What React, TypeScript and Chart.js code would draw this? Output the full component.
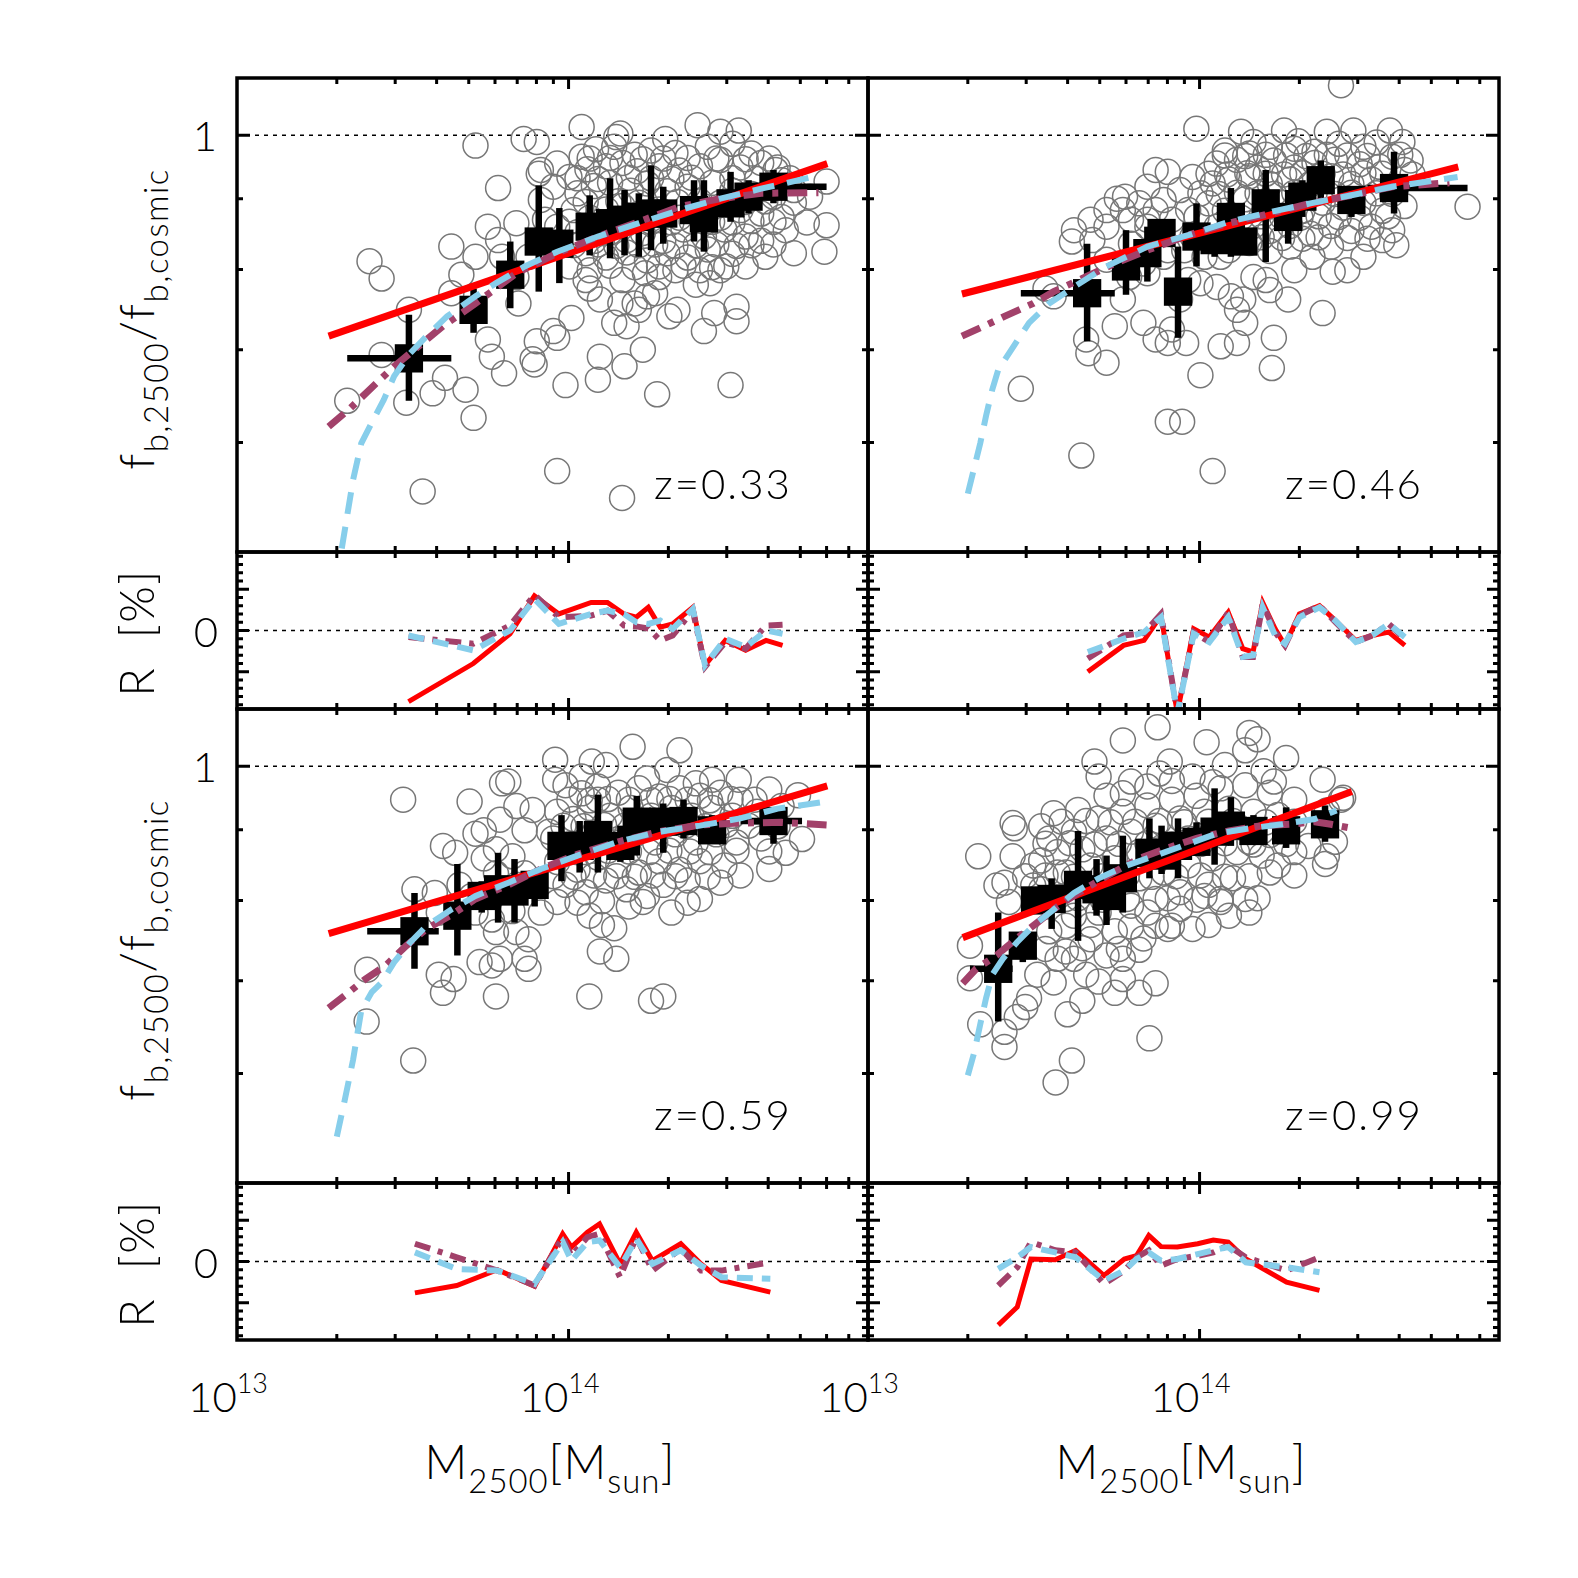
import React, { useEffect, useRef } from "react";
import { Chart, registerables } from "chart.js";
Chart.register(...registerables);

// masses are given in units of 1e13 Msun
const E13 = 1e13;

// ---------------- axis ticks ----------------
const xMajorTicks = [1e13, 1e14];
const xMinorTicks = [2e13, 3e13, 4e13, 5e13, 6e13, 7e13, 8e13, 9e13, 2e14, 3e14, 4e14, 5e14, 6e14, 7e14];
const xTickLabels = ["13", "14"];
const fMajorTicks = [1];
const fMinorTicks = [0.6, 0.7, 0.8, 0.9];
const rMajorTicks = [-10, 0, 10];
const rMinorTicks = [-18, -16, -14, -12, -8, -6, -4, -2, 2, 4, 6, 8, 12, 14, 16, 18];
const redshiftLabels = ["z=0.33", "z=0.46", "z=0.59", "z=0.99"];

// ---------------- z = 0.33 ----------------
const z033Circles = [
  [5.24,0.983],[7.32,0.994],[8.02,0.989],[10.95,1.014],[13.93,0.997],[14.33,1.003],[19.57,0.994],[24.5,1.017],[28.7,1.006],[32.6,1.008],
  [6.13,0.916],[2.51,0.811],[2.73,0.788],[4.43,0.831],[3.30,0.748],[4.75,0.793],[4.43,0.769],[6.13,0.840],[6.30,0.817],[6.96,0.790],
  [8.13,0.938],[8.25,0.898],[9.24,0.954],[2.73,0.694],[2.15,0.643],[3.24,0.641],[3.89,0.651],[4.24,0.668],[4.89,0.655],[5.17,0.625],
  [5.71,0.712],[5.87,0.692],[6.39,0.673],[7.06,0.756],[7.79,0.689],[7.90,0.683],[8.02,0.710],[8.99,0.722],[9.24,0.714],[9.79,0.660],
  [10.2,0.738],[12.43,0.692],[12.26,0.666],[14.75,0.681],[16.75,0.700],[18.5,0.650],[30.8,0.660],[25.6,0.722],[32.1,0.734],[32.1,0.752],
  [27.5,0.744],[28.7,0.799],[29.9,0.804],[24.2,0.780],[20.14,0.740],[17.24,0.765],[15.83,0.756],[14.96,0.728],[13.73,0.732],[16.29,0.748],
  [14.33,0.756],[11.58,0.775],[12.43,0.761],[11.26,0.786],[14.54,0.786],[17.0,0.795],[18.76,0.790],[18.24,0.769],[21.3,0.748],[26.7,0.782],
  [3.63,0.553],[9.24,0.572],[14.5,0.547],[39.2,0.817],[47.8,0.822],[59.1,0.824],[60.0,0.861],[60.0,0.926],[42.1,0.944],[43.9,0.928],[47.8,0.913],[53.5,0.903],
  [10.95,0.965],[12.1,0.977],[13.73,0.981],[15.83,0.968],[17.73,0.975],[21.0,0.971],[26.3,0.981],[31.2,0.986],[35.6,0.970],
  [10.06,0.933],[11.4,0.945],[12.97,0.950],[14.54,0.955],[16.1,0.942],[18.76,0.950],[21.6,0.943],[24.9,0.950],[28.7,0.960],[33.0,0.948],[38.1,0.955],[42.7,0.948],
  [10.64,0.908],[11.92,0.919],[13.34,0.924],[15.39,0.912],[17.24,0.923],[19.85,0.911],[22.86,0.918],[27.1,0.924],[31.2,0.912],[35.6,0.907],[41.5,0.903],
  [10.35,0.883],[11.58,0.872],[12.97,0.884],[14.54,0.889],[16.29,0.877],[18.76,0.884],[21.6,0.872],[24.9,0.884],[28.7,0.872],[33.0,0.883],[38.1,0.878],[43.9,0.873],
  [10.64,0.851],[11.92,0.839],[13.34,0.851],[14.96,0.840],[16.75,0.850],[19.3,0.839],[22.22,0.855],[25.6,0.845],[29.5,0.855],[34.2,0.845],[38.1,0.839],[45.2,0.854],
  [11.26,0.822],[12.97,0.816],[14.96,0.823],[17.24,0.812],[19.85,0.822],[22.86,0.816],[26.3,0.827],[31.2,0.821],
  [8.25,0.944],[8.99,0.918],[8.49,0.869],[9.24,0.859],[11.58,0.799],[21.0,0.799],[24.9,0.799],
  [11.58,0.962],[13.34,0.963],[16.75,0.961],[19.3,0.962],[22.86,0.963],[27.9,0.962],[34.2,0.961],[40.3,0.962],
  [10.64,0.931],[12.26,0.930],[15.2,0.932],[17.73,0.931],[20.42,0.930],[23.5,0.932],[31.2,0.931],[37.0,0.930],[46.5,0.931],
  [11.26,0.895],[14.13,0.896],[16.29,0.894],[21.3,0.895],[24.9,0.896],[28.7,0.894],[34.2,0.895],[39.2,0.896],[47.8,0.894],
  [10.06,0.866],[12.26,0.865],[15.39,0.867],[17.73,0.866],[20.42,0.865],[23.5,0.867],[27.1,0.866],[31.2,0.865],[35.6,0.867],[41.5,0.866],[52.3,0.865],
  [10.35,0.833],[12.26,0.834],[13.93,0.832],[16.29,0.833],[18.24,0.834],[21.0,0.832],[24.2,0.833],[27.9,0.834],[32.1,0.832],[35.6,0.833],[41.5,0.834],
  [10.06,0.804],[13.34,0.805],[15.83,0.803],[18.76,0.804],[22.22,0.805],[27.1,0.803],[34.2,0.804],
  [6.96,0.864],[7.57,0.817],[5.24,0.817],[5.71,0.859]
];
const z033BinM = [3.30, 5.17, 6.67, 8.13, 9.38, 11.58, 13.34, 14.75, 16.29, 17.73, 19.3, 23.9, 25.6, 30.8, 34.9, 41.5];
const z033BinF = [0.690, 0.748, 0.793, 0.838, 0.835, 0.859, 0.864, 0.869, 0.873, 0.878, 0.878, 0.883, 0.871, 0.893, 0.903, 0.918];
const z033BinFLo = [0.643, 0.720, 0.750, 0.771, 0.782, 0.819, 0.815, 0.819, 0.817, 0.826, 0.835, 0.838, 0.824, 0.866, 0.878, 0.893];
const z033BinFHi = [0.742, 0.775, 0.838, 0.920, 0.886, 0.905, 0.931, 0.913, 0.908, 0.951, 0.918, 0.928, 0.928, 0.941, 0.928, 0.944];
const z033BinMLo = [2.15, null, null, null, null, null, null, null, null, null, null, null, null, null, null, 36.4];
const z033BinMHi = [4.43, null, null, null, null, null, null, null, null, null, null, null, null, null, null, 60.0];
const z033RedM = [1.89, 60.3];
const z033RedF = [0.716, 0.954];
const z033BlueM = [2.07, 2.24, 2.37, 2.55, 2.77, 2.98, 3.33, 3.73, 4.30, 5.24, 6.04, 7.37, 9.24, 12.26, 16.29, 21.6, 28.7, 38.1, 54.4];
const z033BlueF = [0.503, 0.564, 0.599, 0.620, 0.644, 0.670, 0.696, 0.716, 0.740, 0.765, 0.782, 0.804, 0.824, 0.845, 0.864, 0.883, 0.900, 0.915, 0.933];
const z033PurpleM = [1.89, 2.18, 2.51, 2.98, 3.43, 4.18, 5.24, 6.96, 9.24, 12.26, 16.29, 21.6, 28.7, 38.1, 56.7];
const z033PurpleF = [0.616, 0.634, 0.655, 0.681, 0.700, 0.728, 0.756, 0.795, 0.822, 0.845, 0.866, 0.888, 0.900, 0.908, 0.909];
const z033ResM = [3.29, 5.16, 6.66, 7.89, 9.35, 11.7, 13.1, 14.7, 16.0, 17.4, 18.9, 20.6, 23.7, 25.8, 29.7, 34.2, 39.4, 44.2];
const z033ResRed = [-17.2, -8.0, -0.8, 8.4, 4.0, 6.8, 6.8, 4.0, 3.2, 5.6, 0.8, 1.6, 5.6, -8.4, -2.4, -4.8, -2.4, -3.6];
const z033ResPurple = [-1.6, -3.2, 1.2, 8.6, 3.2, 3.6, 4.8, 1.2, 1.0, 0.5, -2.4, -1.2, 4.8, -8.8, -2.8, -4.4, 1.2, 1.4];
const z033ResBlue = [-1.2, -4.8, 0.0, 7.6, 1.6, 4.0, 4.8, 4.0, 2.0, 1.6, 2.4, 0.4, 5.2, -8.4, -2.0, -4.0, 0.0, -0.8];

// ---------------- z = 0.46 ----------------
const z046Circles = [
  [26.7,1.087],[9.78,1.011],[13.34,1.006],[17.98,1.008],[24.2,1.006],[29.1,1.008],[37.5,1.008],[40.9,0.989],
  [11.92,0.975],[14.13,0.970],[16.29,0.981],[19.3,0.978],[22.22,0.973],[26.3,0.986],[31.2,0.981],[38.1,0.965],[43.3,0.959],
  [7.37,0.944],[8.02,0.941],[9.52,0.933],[5.96,0.903],[5.63,0.900],[6.96,0.918],[8.73,0.913],
  [4.18,0.854],[4.12,0.838],[4.75,0.840],[5.24,0.859],[5.87,0.883],[6.58,0.893],[7.79,0.898],
  [3.43,0.775],[3.63,0.765],[5.87,0.761],[6.77,0.732],[5.55,0.728],[4.55,0.712],[4.62,0.696],[5.24,0.685],[7.37,0.712],[8.02,0.708],
  [9.11,0.708],[8.25,0.724],[10.06,0.671],[11.58,0.704],[12.97,0.708],[13.73,0.732],[16.75,0.714],[16.52,0.679],[18.5,0.761],[23.5,0.744],
  [16.29,0.773],[12.43,0.765],[12.97,0.748],[11.26,0.777],[13.54,0.761],
  [2.89,0.656],[4.4,0.587],[10.95,0.572],[8.02,0.621],[8.86,0.621],[64.3,0.888],[39.2,0.833],[38.1,0.854],[31.2,0.817],[27.9,0.799],
  [25.2,0.797],[21.9,0.817],[19.3,0.799],[15.83,0.786],[14.54,0.790],[11.58,0.817],[10.35,0.817],[9.24,0.786],[10.06,0.782],[8.73,0.761],
  [6.96,0.795],[6.13,0.790],[5.24,0.813],[6.21,0.869],[6.96,0.859],[8.25,0.869],[9.24,0.883],
  [11.26,0.954],[12.97,0.960],[14.96,0.948],[16.75,0.959],[19.3,0.948],[22.22,0.955],[25.6,0.960],[30.4,0.953],[34.9,0.949],[41.5,0.944],
  [10.95,0.923],[12.26,0.929],[14.13,0.934],[16.29,0.922],[18.76,0.929],[21.6,0.922],[24.9,0.934],[28.7,0.922],[33.0,0.929],[39.2,0.917],
  [10.64,0.893],[11.92,0.882],[13.73,0.899],[15.83,0.887],[17.73,0.894],[20.42,0.882],[23.5,0.894],[27.1,0.887],[31.2,0.894],[35.6,0.882],[41.5,0.889],
  [11.26,0.859],[12.61,0.849],[14.54,0.860],[16.29,0.853],[18.76,0.860],[21.6,0.849],[24.9,0.860],[28.7,0.853],[33.0,0.859],
  [12.26,0.826],[14.13,0.836],[16.29,0.825],[18.76,0.831],[24.9,0.831],[35.6,0.840],[8.02,0.826],[8.99,0.826],[9.52,0.845],
  [14.54,0.989],[19.85,0.990],[34.2,0.988],
  [11.92,0.967],[13.73,0.966],[15.83,0.968],[18.24,0.967],[21.0,0.966],[24.2,0.968],[27.9,0.967],[32.1,0.966],[40.3,0.968],
  [10.64,0.938],[12.1,0.937],[13.93,0.939],[15.83,0.938],[17.98,0.937],[20.42,0.939],[23.5,0.938],[27.1,0.937],[31.2,0.939],[35.6,0.938],[43.9,0.937],
  [10.06,0.908],[11.42,0.907],[12.97,0.909],[14.96,0.908],[16.75,0.907],[19.3,0.909],[22.22,0.908],[25.6,0.907],[28.7,0.909],[34.2,0.908],[38.1,0.907],
  [9.79,0.873],[13.34,0.872],[15.39,0.874],[17.73,0.873],[20.14,0.872],[22.86,0.874],[26.3,0.873],[30.4,0.872],[37.0,0.874],
  [10.64,0.843],[11.58,0.842],[15.39,0.844],[17.73,0.843],[20.42,0.842],[22.86,0.844],[27.9,0.843],[32.1,0.842],
  [5.24,0.883],[4.69,0.869],[7.37,0.883],[6.96,0.869],[6.21,0.835],[7.79,0.817],[6.77,0.808]
];
const z046BinM = [4.58, 6.0, 6.96, 7.68, 8.61, 9.79, 11.1, 12.43, 13.54, 15.83, 18.5, 20.42, 23.2, 28.7, 38.6];
const z046BinF = [0.769, 0.804, 0.822, 0.850, 0.771, 0.845, 0.840, 0.873, 0.838, 0.893, 0.873, 0.903, 0.928, 0.898, 0.916];
const z046BinFLo = [0.710, 0.767, 0.784, 0.831, 0.714, 0.804, 0.817, 0.817, 0.822, 0.810, 0.835, 0.873, 0.893, 0.873, 0.878];
const z046BinFHi = [0.835, 0.854, 0.859, 0.869, 0.831, 0.893, 0.859, 0.916, 0.854, 0.944, 0.913, 0.928, 0.959, 0.918, 0.973];
const z046BinMLo = [2.89, null, null, null, null, null, null, null, null, null, null, null, null, null, 32.1];
const z046BinMHi = [5.55, null, null, null, null, null, null, null, null, null, null, null, null, null, 64.3];
const z046RedM = [1.92, 60.3];
const z046RedF = [0.768, 0.949];
const z046BlueM = [2.0, 2.18, 2.27, 2.37, 2.47, 2.77, 3.06, 3.52, 4.18, 5.24, 6.96, 9.24, 12.26, 16.29, 21.6, 28.7, 38.1, 60.0];
const z046BlueF = [0.551, 0.599, 0.627, 0.655, 0.677, 0.706, 0.732, 0.756, 0.777, 0.804, 0.831, 0.847, 0.866, 0.880, 0.893, 0.905, 0.918, 0.933];
const z046PurpleM = [1.92, 2.24, 2.58, 3.15, 3.63, 4.43, 5.55, 6.96, 9.24, 12.26, 16.29, 21.6, 28.7, 38.1, 56.7];
const z046PurpleF = [0.716, 0.728, 0.740, 0.756, 0.771, 0.788, 0.808, 0.826, 0.847, 0.864, 0.878, 0.893, 0.905, 0.918, 0.924];
const z046ResM = [4.6, 5.9, 6.8, 7.65, 8.57, 9.6, 10.7, 12.2, 13.5, 14.5, 15.5, 16.9, 18.1, 20.0, 23.0, 25.7, 29.6, 33.2, 37.2, 41.6];
const z046ResRed = [-10.0, -3.6, -2.4, 3.6, -20.0, 0.4, -1.6, 4.4, -4.4, -5.2, 6.8, 0.4, -3.6, 4.0, 6.0, 2.4, -2.4, -1.2, -0.4, -3.6];
const z046ResPurple = [-6.8, -1.2, -0.6, 4.0, -20.0, -0.4, -2.8, 4.4, -6.4, -6.4, 6.4, -0.4, -3.6, 3.6, 6.0, 2.0, -2.8, -1.2, 1.6, -2.0];
const z046ResBlue = [-5.2, -2.0, -0.4, 3.2, -20.0, -0.8, -2.8, 3.2, -6.4, -6.0, 5.6, -1.2, -3.2, 3.2, 5.6, 2.4, -2.8, -1.2, 1.6, -1.6];

// ---------------- z = 0.59 ----------------
const z059Circles = [
  [15.6,1.033],[21.6,1.027],[9.11,1.011],[11.75,1.008],[12.97,1.002],[6.58,0.975],[6.30,0.972],[5.03,0.943],[3.17,0.946],[9.11,0.978],
  [10.95,0.983],[12.26,0.967],[17.24,0.980],[19.85,0.994],[24.2,0.972],[27.1,0.978],[32.6,0.978],[40.3,0.962],[49.2,0.953],[36.4,0.946],[43.9,0.936],
  [6.96,0.936],[7.79,0.930],[6.21,0.915],[5.55,0.899],[5.24,0.894],[7.37,0.899],[8.73,0.897],[6.04,0.871],[6.77,0.861],[4.18,0.876],
  [4.55,0.866],[7.37,0.837],[6.04,0.837],[3.43,0.815],[3.95,0.810],[4.06,0.784],[5.24,0.784],[5.87,0.775],[6.04,0.759],[6.96,0.759],
  [7.57,0.750],[5.39,0.722],[5.87,0.718],[6.21,0.726],[7.37,0.726],[7.57,0.714],[4.06,0.707],[4.5,0.702],[4.18,0.686],[6.04,0.682],
  [11.55,0.682],[17.73,0.677],[19.3,0.682],[12.43,0.735],[13.93,0.726],[13.73,0.764],[11.58,0.780],[12.61,0.768],[15.2,0.792],[17.24,0.806],
  [20.42,0.784],[24.9,0.802],[28.7,0.824],[40.3,0.843],[45.2,0.866],[50.6,0.886],[2.47,0.713],[2.46,0.654],[3.40,0.613],[5.10,0.806],
  [9.79,0.969],[10.95,0.956],[12.26,0.946],[14.13,0.957],[16.29,0.964],[18.76,0.951],[21.6,0.964],[24.9,0.952],[28.7,0.957],[33.0,0.946],
  [9.24,0.927],[10.35,0.916],[11.58,0.933],[13.34,0.921],[15.39,0.933],[17.73,0.921],[20.42,0.933],[23.5,0.921],[27.1,0.933],[31.2,0.921],[37.0,0.927],
  [8.99,0.887],[10.35,0.875],[11.92,0.893],[13.73,0.881],[15.83,0.893],[18.24,0.881],[21.0,0.893],[24.2,0.881],[27.9,0.893],[32.1,0.881],[38.1,0.887],
  [9.24,0.853],[10.64,0.842],[12.26,0.859],[14.13,0.848],[16.29,0.838],[18.76,0.854],[21.6,0.842],[24.9,0.854],[29.5,0.848],
  [9.79,0.821],[11.26,0.811],[12.97,0.827],[14.96,0.815],[19.3,0.821],[22.86,0.827],
  [10.06,0.946],[11.58,0.945],[13.15,0.947],[15.2,0.946],[17.73,0.945],[20.14,0.947],[22.86,0.946],[26.7,0.945],[30.8,0.947],
  [9.65,0.906],[11.1,0.905],[12.79,0.907],[14.75,0.906],[17.0,0.905],[19.57,0.907],[22.54,0.906],[25.9,0.905],[29.9,0.907],[34.9,0.906],[42.7,0.905],
  [9.79,0.868],[11.26,0.867],[13.15,0.869],[15.2,0.868],[17.5,0.867],[20.14,0.869],[23.2,0.868],[26.7,0.867],[32.1,0.869],[40.3,0.868],
  [8.99,0.833],[10.35,0.832],[11.92,0.834],[13.93,0.833],[15.83,0.832],[17.98,0.834],[21.0,0.833],[26.3,0.832],[33.0,0.834],
  [9.24,0.798],[10.64,0.797],[12.61,0.799],[16.75,0.798],[22.86,0.797],
  [5.55,0.858],[6.96,0.821],[4.69,0.821],[8.25,0.784],[6.77,0.786]
];
const z059BinM = [3.43, 4.62, 5.47, 6.13, 6.87, 7.9, 9.52, 10.8, 12.26, 14.33, 16.06, 19.3, 22.22, 27.1, 41.5];
const z059BinF = [0.760, 0.780, 0.806, 0.815, 0.812, 0.821, 0.876, 0.876, 0.892, 0.876, 0.912, 0.912, 0.913, 0.899, 0.913];
const z059BinFLo = [0.714, 0.730, 0.784, 0.771, 0.771, 0.792, 0.826, 0.838, 0.838, 0.853, 0.862, 0.866, 0.887, 0.882, 0.879];
const z059BinFHi = [0.810, 0.850, 0.826, 0.866, 0.857, 0.838, 0.922, 0.913, 0.954, 0.906, 0.952, 0.940, 0.946, 0.922, 0.934];
const z059BinMLo = [2.47, null, null, null, null, null, null, null, null, null, null, null, null, null, 33.0];
const z059BinMHi = [4.06, null, null, null, null, null, null, null, null, null, null, null, null, null, 50.6];
const z059RedM = [1.89, 60.3];
const z059RedF = [0.757, 0.968];
const z059BlueM = [2.0, 2.12, 2.24, 2.37, 2.55, 2.73, 2.98, 3.33, 3.73, 4.43, 5.24, 6.58, 8.25, 10.64, 14.13, 18.76, 24.9, 33.0, 42.7, 60.0];
const z059BlueF = [0.540, 0.576, 0.614, 0.666, 0.687, 0.698, 0.722, 0.746, 0.767, 0.788, 0.806, 0.824, 0.843, 0.862, 0.882, 0.897, 0.906, 0.917, 0.932, 0.943];
const z059PurpleM = [1.89, 2.18, 2.44, 2.81, 3.24, 3.73, 4.43, 5.24, 6.58, 8.25, 10.64, 14.13, 18.76, 24.9, 33.0, 43.9, 60.0];
const z059PurpleF = [0.669, 0.687, 0.702, 0.718, 0.742, 0.763, 0.781, 0.802, 0.821, 0.843, 0.864, 0.882, 0.897, 0.907, 0.910, 0.911, 0.907];
const z059ResM = [3.44, 4.6, 6.1, 7.9, 9.6, 10.2, 11.4, 12.4, 14.3, 16.0, 17.9, 21.8, 25.1, 28.9, 40.6];
const z059ResRed = [-7.6, -5.8, -2.0, -6.0, 6.7, 3.5, 7.1, 9.1, -0.6, 7.1, 0.2, 4.3, -0.6, -4.6, -7.4];
const z059ResPurple = [4.3, 1.0, -2.2, -5.8, 5.9, 1.4, 5.9, 6.7, -3.8, 5.9, -2.2, 3.1, -2.2, -2.2, -0.2];
const z059ResBlue = [2.2, -1.8, -2.2, -5.4, 4.7, 0.2, 4.7, 5.1, -1.4, 5.5, -0.6, 2.7, -1.0, -3.8, -4.2];

// ---------------- z = 0.99 ----------------
const z099Circles = [
  [7.47,1.067],[5.87,1.044],[4.82,1.008],[4.96,0.983],[8.13,1.008],[10.5,1.041],[14.13,1.057],[14.96,1.046],[13.73,1.027],[18.24,1.014],
  [23.5,0.978],[27.1,0.949],[15.6,0.992],[11.92,1.002],[9.52,0.983],[7.57,0.988],[6.96,0.967],[5.87,0.956],[5.24,0.952],[4.30,0.930],
  [3.63,0.925],[3.33,0.905],[2.73,0.910],[2.77,0.902],[2.15,0.861],[2.73,0.861],[2.58,0.824],[3.33,0.855],[3.95,0.838],[2.44,0.820],
  [2.66,0.798],[3.15,0.820],[2.03,0.742],[2.03,0.703],[2.18,0.651],[2.58,0.627],[2.58,0.643],[2.81,0.659],[2.98,0.670],[3.06,0.680],
  [3.24,0.707],[3.73,0.726],[3.95,0.735],[4.18,0.726],[4.55,0.707],[4.43,0.677],[4.0,0.662],[4.12,0.613],[3.68,0.591],[7.06,0.636],
  [5.55,0.686],[6.58,0.686],[5.87,0.702],[5.24,0.730],[5.87,0.726],[5.71,0.738],[6.77,0.751],[7.37,0.767],[8.02,0.763],[9.52,0.763],
  [12.26,0.780],[14.13,0.784],[11.58,0.798],[13.73,0.802],[10.35,0.806],[8.73,0.811],[6.96,0.784],[16.29,0.838],[17.24,0.848],[19.3,0.867],
  [21.3,0.876],[24.2,0.861],[23.9,0.850],[25.6,0.882],[24.2,0.929],[26.7,0.946],[19.3,0.912],[15.39,0.897],[14.13,0.882],
  [3.52,0.887],[4.18,0.897],[4.96,0.917],[5.87,0.927],[6.96,0.937],[8.25,0.946],[9.79,0.952],[11.58,0.964],[13.73,0.969],[16.29,0.957],[19.3,0.946],
  [3.73,0.867],[4.43,0.871],[5.24,0.887],[6.21,0.897],[7.37,0.906],[8.73,0.917],[10.35,0.927],[12.26,0.932],[14.54,0.927],[17.24,0.922],
  [3.15,0.848],[3.73,0.838],[4.69,0.848],[5.55,0.858],[6.58,0.867],[7.79,0.876],[9.24,0.887],[10.95,0.897],[12.97,0.906],[16.29,0.892],
  [3.33,0.815],[3.95,0.802],[4.69,0.815],[5.55,0.821],[6.58,0.830],[7.79,0.838],[9.24,0.848],[10.95,0.858],[12.97,0.867],[15.39,0.862],
  [4.18,0.780],[4.96,0.784],[6.21,0.793],[7.37,0.802],[8.73,0.789],[10.64,0.821],[12.61,0.830],[3.52,0.760],[4.69,0.750],[5.55,0.760],
  [6.21,0.975],[8.25,0.976],[10.95,0.974],[16.75,0.975],
  [3.84,0.912],[4.55,0.913],[5.39,0.911],[6.39,0.912],[7.57,0.913],[8.99,0.911],[10.64,0.912],[12.61,0.913],[15.83,0.911],
  [3.43,0.879],[4.06,0.880],[4.82,0.878],[5.71,0.879],[6.96,0.880],[8.25,0.878],[10.06,0.879],[11.92,0.880],[14.54,0.878],[18.24,0.879],
  [2.98,0.833],[3.43,0.834],[4.18,0.832],[5.1,0.833],[6.04,0.834],[7.16,0.832],[8.49,0.833],[10.06,0.834],[11.92,0.832],[14.13,0.833],[19.3,0.834],
  [3.63,0.802],[4.30,0.803],[5.1,0.801],[6.04,0.802],[8.02,0.803],[9.79,0.801],[11.58,0.802],[14.96,0.803],
  [3.95,0.767],[4.69,0.768],[6.21,0.766],[8.25,0.767],[10.64,0.768],
  [3.43,0.738],[4.43,0.739],[6.58,0.737],[3.63,0.698],[4.96,0.699],[7.37,0.697]
];
const z099BinM = [2.47, 2.93, 3.19, 3.58, 4.30, 4.89, 5.24, 5.87, 7.06, 7.68, 8.61, 9.79, 11.1, 12.43, 14.54, 18.24, 23.9];
const z099BinF = [0.714, 0.742, 0.800, 0.802, 0.821, 0.815, 0.806, 0.830, 0.866, 0.862, 0.876, 0.882, 0.897, 0.906, 0.898, 0.899, 0.908];
const z099BinFLo = [0.654, 0.722, 0.784, 0.763, 0.748, 0.780, 0.768, 0.784, 0.830, 0.836, 0.830, 0.862, 0.849, 0.876, 0.882, 0.873, 0.882];
const z099BinFHi = [0.784, 0.759, 0.815, 0.830, 0.898, 0.857, 0.862, 0.891, 0.917, 0.906, 0.917, 0.911, 0.964, 0.950, 0.922, 0.934, 0.937];
const z099BinMLo = [2.03, null, null, null, null, null, null, null, null, null, null, null, null, null, null, null, null];
const z099BinMHi = [2.73, null, null, null, null, null, null, null, null, null, null, null, null, null, null, null, null];
const z099RedM = [1.93, 28.8];
const z099RedF = [0.752, 0.959];
const z099BlueM = [2.0, 2.09, 2.18, 2.27, 2.37, 2.55, 2.81, 3.15, 3.63, 4.18, 4.96, 6.04, 7.37, 9.24, 11.26, 14.13, 17.73, 22.22, 25.9];
const z099BlueF = [0.598, 0.621, 0.651, 0.680, 0.707, 0.726, 0.746, 0.767, 0.788, 0.810, 0.830, 0.848, 0.862, 0.879, 0.894, 0.902, 0.908, 0.916, 0.929];
const z099PurpleM = [1.93, 2.12, 2.44, 2.81, 3.24, 3.73, 4.30, 5.24, 6.58, 8.02, 9.79, 12.26, 15.39, 18.76, 22.22, 24.9, 28.8];
const z099PurpleF = [0.697, 0.714, 0.730, 0.751, 0.771, 0.792, 0.810, 0.833, 0.858, 0.873, 0.887, 0.898, 0.906, 0.908, 0.912, 0.908, 0.902];
const z099ResM = [2.47, 2.82, 3.1, 3.67, 4.23, 5.15, 5.93, 6.45, 7.03, 7.65, 8.57, 9.87, 11.0, 12.2, 13.8, 18.3, 23.0];
const z099ResRed = [-15.4, -11.0, 0.6, 0.4, 2.7, -3.4, 0.6, 1.4, 6.3, 3.6, 3.5, 4.3, 5.2, 4.7, 0.6, -5.0, -7.0];
const z099ResPurple = [-5.8, -1.4, 4.7, 2.7, 2.2, -5.4, -2.2, 1.0, 2.7, -1.0, 0.6, 1.4, 2.2, 3.9, 1.0, -2.2, 1.0];
const z099ResBlue = [-1.8, 1.0, 3.5, 2.2, 1.0, -4.6, -2.2, 0.6, 2.2, 0.2, 0.6, 1.8, 2.7, 3.5, -0.2, -1.4, -2.6];

// ---------------- layout / style ----------------
const PAD = 16;
const COL_X = [237, 868];
const PANEL_W = 631;
const ROW_Y = [78, 709];
const MAIN_H = 474;
const RES_H = 157;
const X_MIN = 1e13;
const X_MAX = 8e14;
const RED = "#ff0000";
const BLUE = "#87ceeb";
const PURPLE = "#a2416a";
const FONT = 'Lato, "DejaVu Sans", "Liberation Sans", sans-serif';

type MainPanel = {
  circles: number[][]; binM: number[]; binF: number[]; binFLo: number[]; binFHi: number[];
  binMLo: (number | null)[]; binMHi: (number | null)[];
  redM: number[]; redF: number[]; blueM: number[]; blueF: number[]; purM: number[]; purF: number[];
};
type ResPanel = { m: number[]; red: number[]; pur: number[]; blue: number[] };

const MAIN_PANELS: MainPanel[] = [
  { circles: z033Circles, binM: z033BinM, binF: z033BinF, binFLo: z033BinFLo, binFHi: z033BinFHi, binMLo: z033BinMLo, binMHi: z033BinMHi,
    redM: z033RedM, redF: z033RedF, blueM: z033BlueM, blueF: z033BlueF, purM: z033PurpleM, purF: z033PurpleF },
  { circles: z046Circles, binM: z046BinM, binF: z046BinF, binFLo: z046BinFLo, binFHi: z046BinFHi, binMLo: z046BinMLo, binMHi: z046BinMHi,
    redM: z046RedM, redF: z046RedF, blueM: z046BlueM, blueF: z046BlueF, purM: z046PurpleM, purF: z046PurpleF },
  { circles: z059Circles, binM: z059BinM, binF: z059BinF, binFLo: z059BinFLo, binFHi: z059BinFHi, binMLo: z059BinMLo, binMHi: z059BinMHi,
    redM: z059RedM, redF: z059RedF, blueM: z059BlueM, blueF: z059BlueF, purM: z059PurpleM, purF: z059PurpleF },
  { circles: z099Circles, binM: z099BinM, binF: z099BinF, binFLo: z099BinFLo, binFHi: z099BinFHi, binMLo: z099BinMLo, binMHi: z099BinMHi,
    redM: z099RedM, redF: z099RedF, blueM: z099BlueM, blueF: z099BlueF, purM: z099PurpleM, purF: z099PurpleF },
];
const RES_PANELS: ResPanel[] = [
  { m: z033ResM, red: z033ResRed, pur: z033ResPurple, blue: z033ResBlue },
  { m: z046ResM, red: z046ResRed, pur: z046ResPurple, blue: z046ResBlue },
  { m: z059ResM, red: z059ResRed, pur: z059ResPurple, blue: z059ResBlue },
  { m: z099ResM, red: z099ResRed, pur: z099ResPurple, blue: z099ResBlue },
];

const pts = (ms: number[], vs: number[]) => ms.map((m, i) => ({ x: m * E13, y: vs[i] }));

function framePlugin(kind: "main" | "res", panel?: MainPanel) {
  return {
    id: "frame_" + kind,
    beforeDatasetsDraw(chart: any) {
      const { ctx, chartArea: a, scales } = chart;
      const yr = scales.y.getPixelForValue(kind === "main" ? 1 : 0);
      ctx.save();
      ctx.strokeStyle = "#000";
      ctx.lineWidth = 1.4;
      ctx.setLineDash([4, 5]);
      ctx.beginPath();
      ctx.moveTo(a.left, yr);
      ctx.lineTo(a.right, yr);
      ctx.stroke();
      ctx.restore();
    },
    afterDatasetDraw(chart: any, args: any) {
      if (!panel) return;
      const ds = chart.data.datasets[args.index];
      if (ds.label !== "bins") return;
      const { ctx, chartArea: a, scales } = chart;
      const x = scales.x, y = scales.y;
      ctx.save();
      ctx.beginPath();
      ctx.rect(a.left, a.top, a.right - a.left, a.bottom - a.top);
      ctx.clip();
      ctx.strokeStyle = "#000";
      ctx.lineWidth = 6.5;
      panel.binM.forEach((m, i) => {
        const px = x.getPixelForValue(m * E13);
        const py = y.getPixelForValue(panel.binF[i]);
        ctx.beginPath();
        ctx.moveTo(px, y.getPixelForValue(panel.binFLo[i]));
        ctx.lineTo(px, y.getPixelForValue(panel.binFHi[i]));
        const lo = panel.binMLo[i], hi = panel.binMHi[i];
        if (lo != null && hi != null) {
          ctx.moveTo(x.getPixelForValue(lo * E13), py);
          ctx.lineTo(x.getPixelForValue(hi * E13), py);
        }
        ctx.stroke();
      });
      ctx.restore();
    },
    afterDraw(chart: any) {
      const { ctx, chartArea: a, scales } = chart;
      const x = scales.x, y = scales.y;
      ctx.save();
      ctx.strokeStyle = "#000";
      ctx.lineWidth = 3;
      ctx.setLineDash([]);
      ctx.beginPath();
      const xt = (vals: number[], len: number) => vals.forEach((v) => {
        const px = x.getPixelForValue(v);
        if (px <= a.left + 1 || px >= a.right - 1) return;
        ctx.moveTo(px, a.top); ctx.lineTo(px, a.top + len);
        ctx.moveTo(px, a.bottom); ctx.lineTo(px, a.bottom - len);
      });
      const yt = (vals: number[], len: number) => vals.forEach((v) => {
        const py = y.getPixelForValue(v);
        if (py <= a.top + 1 || py >= a.bottom - 1) return;
        ctx.moveTo(a.left, py); ctx.lineTo(a.left + len, py);
        ctx.moveTo(a.right, py); ctx.lineTo(a.right - len, py);
      });
      xt(xMajorTicks, 11);
      xt(xMinorTicks, 6);
      if (kind === "main") { yt(fMajorTicks, 13); yt(fMinorTicks, 6); }
      else { yt(rMajorTicks, 12); yt(rMinorTicks, 6); }
      ctx.stroke();
      ctx.lineWidth = 3.5;
      ctx.strokeRect(a.left, a.top, a.right - a.left, a.bottom - a.top);
      ctx.restore();
    },
  };
}

const baseOptions = (yScale: any) => ({
  responsive: false,
  animation: false as const,
  events: [] as any[],
  layout: { padding: PAD, autoPadding: false },
  scales: {
    x: { type: "logarithmic", min: X_MIN, max: X_MAX, display: false },
    y: { ...yScale, display: false },
  },
  plugins: { legend: { display: false }, tooltip: { enabled: false } },
});

function mainConfig(p: MainPanel): any {
  return {
    type: "scatter",
    data: {
      datasets: [
        { label: "circles", data: p.circles.map(([m, f]) => ({ x: m * E13, y: f })), pointStyle: "circle", pointRadius: 12.5,
          borderColor: "#777777", borderWidth: 1.5, backgroundColor: "rgba(0,0,0,0)", order: 10, clip: 0 },
        { label: "bins", data: pts(p.binM, p.binF), pointStyle: "rect", pointRadius: 20, backgroundColor: "#000",
          borderColor: "#000", borderWidth: 0, order: 9, clip: 0 },
        { type: "line", label: "fit", data: pts(p.redM, p.redF), borderColor: RED, borderWidth: 7, pointRadius: 0, order: 3, clip: 0 },
        { type: "line", label: "model2", data: pts(p.purM, p.purF), borderColor: PURPLE, borderWidth: 7, borderDash: [20, 9, 6, 9],
          pointRadius: 0, order: 2, clip: 0 },
        { type: "line", label: "model1", data: pts(p.blueM, p.blueF), borderColor: BLUE, borderWidth: 6, borderDash: [22, 13],
          pointRadius: 0, order: 1, clip: 0 },
      ],
    },
    options: baseOptions({ type: "logarithmic", min: 0.5, max: 1.1 }),
    plugins: [framePlugin("main", p)],
  };
}

function resConfig(r: ResPanel): any {
  return {
    type: "scatter",
    data: {
      datasets: [
        { type: "line", label: "fit", data: pts(r.m, r.red), borderColor: RED, borderWidth: 5, pointRadius: 0, order: 3, clip: 0 },
        { type: "line", label: "model2", data: pts(r.m, r.pur), borderColor: PURPLE, borderWidth: 6, borderDash: [16, 8, 5, 8],
          pointRadius: 0, order: 2, clip: 0 },
        { type: "line", label: "model1", data: pts(r.m, r.blue), borderColor: BLUE, borderWidth: 6, borderDash: [16, 9],
          pointRadius: 0, order: 1, clip: 0 },
      ],
    },
    options: baseOptions({ type: "linear", min: -19, max: 19 }),
    plugins: [framePlugin("res")],
  };
}

const Sub = ({ children, k = 0.7 }: { children: React.ReactNode; k?: number }) => (
  <span style={{ fontSize: `${k}em`, position: "relative", top: "0.42em" }}>{children}</span>
);
const Sup = ({ children }: { children: React.ReactNode }) => (
  <span style={{ fontSize: "0.64em", position: "relative", top: "-0.72em" }}>{children}</span>
);

const Txt = ({ x, y, children, anchor = "center", rotate = false, size = 42, spacing = 0 }:
  { x: number; y: number; children: React.ReactNode; anchor?: "center" | "left" | "right"; rotate?: boolean; size?: number; spacing?: number }) => {
  const tx = anchor === "center" ? "-50%" : anchor === "right" ? "-100%" : "0";
  return (
    <div style={{ position: "absolute", left: x, top: y, whiteSpace: "nowrap", lineHeight: 1, fontFamily: FONT, fontWeight: 300,
      fontSize: size, letterSpacing: spacing, color: "#000", transform: `translate(${tx}, -50%)${rotate ? " rotate(-90deg)" : ""}` }}>
      {children}
    </div>
  );
};

export default function App() {
  const refs = useRef<(HTMLCanvasElement | null)[]>([]);
  const geoms: { x: number; y: number; h: number; kind: "main" | "res"; idx: number }[] = [];
  [0, 1].forEach((row) => [0, 1].forEach((col) => {
    const idx = row * 2 + col;
    geoms.push({ x: COL_X[col], y: ROW_Y[row], h: MAIN_H, kind: "main", idx });
    geoms.push({ x: COL_X[col], y: ROW_Y[row] + MAIN_H, h: RES_H, kind: "res", idx });
  }));

  useEffect(() => {
    const charts = geoms.map((g, i) => {
      const cfg = g.kind === "main" ? mainConfig(MAIN_PANELS[g.idx]) : resConfig(RES_PANELS[g.idx]);
      return new Chart(refs.current[i] as HTMLCanvasElement, cfg);
    });
    return () => charts.forEach((c) => c.destroy());
  }, []);

  const tickX = (col: number, v: number) => COL_X[col] + (PANEL_W * Math.log10(v / X_MIN)) / Math.log10(X_MAX / X_MIN);

  return (
    <div style={{ position: "absolute", left: 0, top: 0, width: 1578, height: 1578, background: "#fff", overflow: "hidden" }}>
      {geoms.map((g, i) => (
        <canvas key={i} ref={(el) => { refs.current[i] = el; }} width={PANEL_W + 2 * PAD} height={g.h + 2 * PAD}
          style={{ position: "absolute", left: g.x - PAD, top: g.y - PAD, width: PANEL_W + 2 * PAD, height: g.h + 2 * PAD }} />
      ))}
      {[0, 1].map((row) => (
        <React.Fragment key={"row" + row}>
          <Txt x={217} y={ROW_Y[row] + 57} anchor="right">1</Txt>
          <Txt x={218} y={ROW_Y[row] + MAIN_H + RES_H / 2} anchor="right">0</Txt>
          <Txt x={136} y={ROW_Y[row] + 241} rotate size={47} spacing={1.5}>f<Sub>b,2500</Sub>/f<Sub>b,cosmic</Sub></Txt>
          <Txt x={136} y={ROW_Y[row] + MAIN_H + RES_H / 2 + 2} rotate size={47} spacing={1.5}>R&nbsp;&nbsp;[%]</Txt>
          {[0, 1].map((col) => (
            <Txt key={col} x={COL_X[col] + 417} y={ROW_Y[row] + 405} anchor="left" size={42} spacing={2}>
              {redshiftLabels[row * 2 + col]}
            </Txt>
          ))}
        </React.Fragment>
      ))}
      {[0, 1].map((col) => (
        <React.Fragment key={"col" + col}>
          {xMajorTicks.map((v, k) => (
            <Txt key={k} x={tickX(col, v) - 9} y={1396} size={42}>10<Sup>{xTickLabels[k]}</Sup></Txt>
          ))}
          <Txt x={COL_X[col] + 313} y={1461} size={47} spacing={1}>M<Sub>2500</Sub>[M<Sub>sun</Sub>]</Txt>
        </React.Fragment>
      ))}
    </div>
  );
}
